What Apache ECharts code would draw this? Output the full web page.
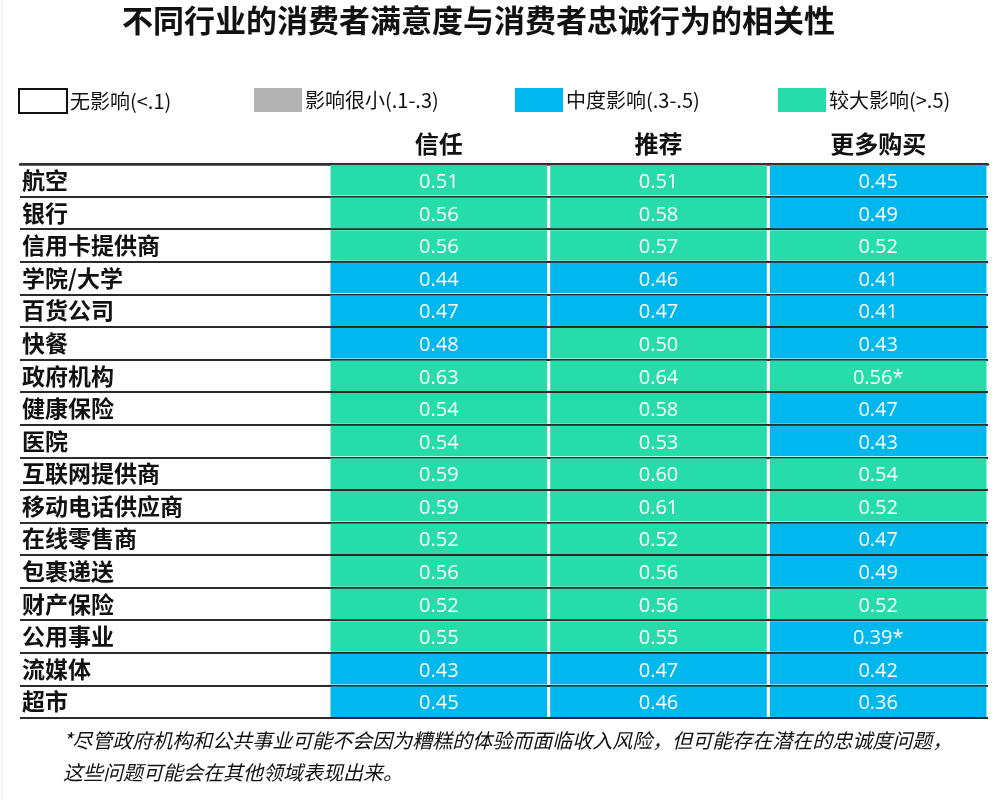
<!DOCTYPE html>
<html>
<head>
<meta charset="utf-8">
<script src="https://cdn.jsdelivr.net/npm/echarts@6/dist/echarts.min.js"></script>
<style>html,body{margin:0;padding:0;background:#fff}#c{width:1000px;height:800px}</style>
</head>
<body>
<div id="c"></div>
<script>
const industries = ['航空','银行','信用卡提供商','学院/大学','百货公司','快餐','政府机构','健康保险','医院','互联网提供商','移动电话供应商','在线零售商','包裹递送','财产保险','公用事业','流媒体','超市'];
const measures = ['信任','推荐','更多购买'];
const trust     = [0.51,0.56,0.56,0.44,0.47,0.48,0.63,0.54,0.54,0.59,0.59,0.52,0.56,0.52,0.55,0.43,0.45];
const recommend = [0.51,0.58,0.57,0.46,0.47,0.50,0.64,0.58,0.53,0.60,0.61,0.52,0.56,0.56,0.55,0.47,0.46];
const buyMore   = [0.45,0.49,0.52,0.41,0.41,0.43,0.56,0.47,0.43,0.54,0.52,0.47,0.49,0.52,0.39,0.42,0.36];
const buyMoreNote = ['','','','','','','*','','','','','','','','*','',''];
const levelNames = ['无影响(<.1)','影响很小(.1-.3)','中度影响(.3-.5)','较大影响(>.5)'];
const levelBreaks = [0.1, 0.3, 0.5];
const levelColors = ['#ffffff','#b3b3b3','#00b7ee','#26ddaa'];
const titleText = '不同行业的消费者满意度与消费者忠诚行为的相关性';
const footnote = '*尽管政府机构和公共事业可能不会因为糟糕的体验而面临收入风险，但可能存在潜在的忠诚度问题，\n这些问题可能会在其他领域表现出来。';

const columns = [trust, recommend, buyMore];
const notes = [null, null, buyMoreNote];
function levelOf(v){ let i=0; while(i<levelBreaks.length && v>=levelBreaks[i]) i++; return i; }
const seriesData = levelNames.map(()=>[]);
columns.forEach((col, ci)=>{
  col.forEach((v, ri)=>{
    const note = notes[ci] ? notes[ci][ri] : '';
    seriesData[levelOf(v)].push([ci, ri, v, note]);
  });
});

const CJK = '"Noto Sans CJK SC", "Noto Sans", sans-serif';
const chart = echarts.init(document.getElementById('c'), null, {renderer:'canvas'});

function renderCell(params, api){
  const c = api.coord([api.value(0), api.value(1)]);
  const s = api.size([1,1]);
  const w = s[0]-3, h = s[1]-2;
  const v = api.value(2);
  const note = seriesData[params.seriesIndex][params.dataIndex][3] || '';
  return {type:'group', children:[
    {type:'rect', shape:{x:c[0]-w/2, y:c[1]-h/2, width:w, height:h}, style:{fill: levelColors[params.seriesIndex]}},
    {type:'text', style:{text: v.toFixed(2)+note, x:c[0], y:c[1]+2, align:'center', verticalAlign:'middle', fill:'#ffffff', fontSize:20, fontFamily:'"Open Sans", sans-serif'}}
  ]};
}

const legendLefts = [18, 254, 515, 778];
const lineStyle = {color:'#2b2b2b', width:2};

chart.setOption({
  animation:false,
  backgroundColor:'#ffffff',
  title:[
    {text:titleText, left:117, top:0, textStyle:{fontSize:31, fontWeight:'bold', color:'#111', fontFamily:CJK}},
    {text:footnote, left:58, top:719, textStyle:{fontSize:20, fontWeight:'normal', fontStyle:'italic', color:'#111', fontFamily:CJK, lineHeight:32}}
  ],
  legend: levelNames.map((n,i)=>({
    data:[{name:n, icon:'rect', itemStyle: i===0 ? {color:'#fff', borderColor:'#111', borderWidth:2} : {color:levelColors[i]}}],
    left:legendLefts[i], top:88, itemWidth:48, itemHeight:24, padding:0,
    selectedMode:false,
    textStyle:{fontSize:20, color:'#111', fontFamily:CJK, padding:[0,0,0,-2]}
  })),
  grid:[
    {left:20, width:309, top:164, bottom:82},
    {left:329, right:12, top:164, bottom:82}
  ],
  xAxis:[
    {gridIndex:0, type:'category', data:[''], position:'top', axisLine:{show:true, lineStyle:{color:'#333', width:2.5}}, axisTick:{show:false}, axisLabel:{show:false}, splitLine:{show:false}},
    {gridIndex:1, type:'category', data:measures, position:'top', axisLine:{show:true, lineStyle:{color:'#333', width:2.5}}, axisTick:{show:false},
     axisLabel:{interval:0, margin:8, fontSize:24, fontWeight:'bold', color:'#111', fontFamily:CJK}, splitLine:{show:false}}
  ],
  yAxis:[
    {gridIndex:0, type:'category', data:industries, inverse:true, axisLine:{show:false}, axisTick:{show:false},
     axisLabel:{inside:true, interval:0, margin:2, fontSize:23, fontWeight:'bold', color:'#111', fontFamily:CJK},
     splitLine:{show:true, interval:0, lineStyle:lineStyle}},
    {gridIndex:1, type:'category', data:industries, inverse:true, axisLine:{show:false}, axisTick:{show:false}, axisLabel:{show:false},
     splitLine:{show:true, interval:0, lineStyle:lineStyle}}
  ],
  series: levelNames.map((n,i)=>({
    name:n, type:'custom', xAxisIndex:1, yAxisIndex:1,
    itemStyle:{color: i===0 ? '#fff' : levelColors[i]},
    renderItem: renderCell,
    encode:{x:0, y:1},
    data: seriesData[i]
  })),
  graphic:[
    {type:'line', shape:{x1:2, y1:0, x2:2, y2:800}, style:{stroke:'#e4e4e4', lineWidth:1}, silent:true}
  ]
});
</script>
</body>
</html>
